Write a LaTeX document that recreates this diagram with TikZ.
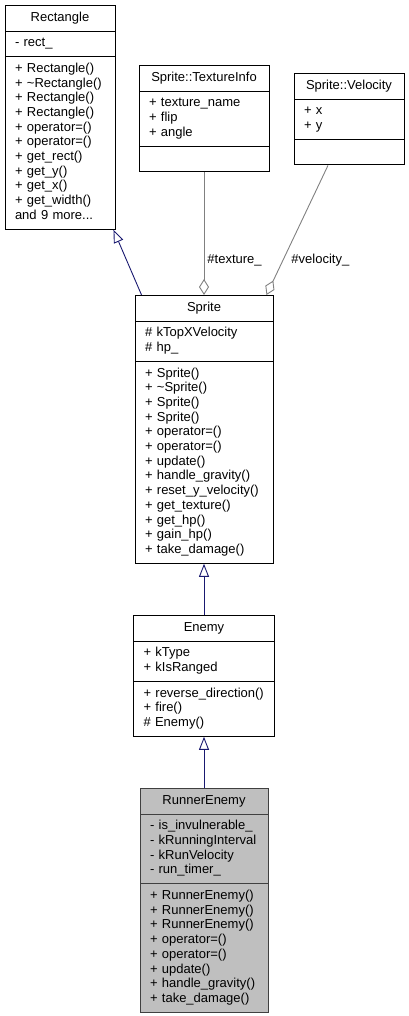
\documentclass[tikz,border=0pt]{standalone}
\usepackage{fontspec}
\setmainfont{Liberation Sans}
\usetikzlibrary{shapes.multipart,arrows.meta}

\definecolor{edgeblue}{HTML}{191970}
\definecolor{edgegrey}{HTML}{808080}
\definecolor{nodegrey}{HTML}{BFBFBF}
\definecolor{bordergrey}{HTML}{404040}

\newcommand{\rows}[1]{\strut#1\strut}
\newcommand{\classname}[1]{\makebox[\hsize]{\strut#1}}

\tikzset{
  classbox/.style={rectangle split, rectangle split parts=3, draw=black, fill=white,
    anchor=north, inner xsep=10pt, inner ysep=5pt, align=left,
    font=\fontsize{13}{14.7}\selectfont},
  inherit/.style={draw=edgeblue, -{Triangle[open,length=13pt,width=10pt]}},
  member/.style={draw=edgegrey, -{Diamond[open,length=16pt,width=10pt]}},
  rolelabel/.style={anchor=west, inner sep=0pt, font=\fontsize{13}{14.7}\selectfont}
}

\begin{document}
\begin{tikzpicture}[x=1pt, y=-1pt, line width=0.9pt]
  \useasboundingbox (0,0) rectangle (409,1016);

  % classes
  \node[classbox, text width=90pt]  (rect) at (60,5)
    {\classname{Rectangle}
     \nodepart{second}\rows{- rect\_}
     \nodepart{third}\rows{+ Rectangle()\\+ \textasciitilde Rectangle()\\+ Rectangle()\\+ Rectangle()\\
       + operator=()\\+ operator=()\\+ get\_rect()\\+ get\_y()\\+ get\_x()\\+ get\_width()\\and 9 more...}};
  \node[classbox, text width=110pt] (texinfo) at (204,65)
    {\classname{Sprite::TextureInfo}
     \nodepart{second}\rows{+ texture\_name\\+ flip\\+ angle}
     \nodepart{third}\strut};
  \node[classbox, text width=90pt]  (velocity) at (349,73)
    {\classname{Sprite::Velocity}
     \nodepart{second}\rows{+ x\\+ y}
     \nodepart{third}\strut};
  \node[classbox, text width=118pt] (sprite) at (204,295)
    {\classname{Sprite}
     \nodepart{second}\rows{\# kTopXVelocity\\\# hp\_}
     \nodepart{third}\rows{+ Sprite()\\+ \textasciitilde Sprite()\\+ Sprite()\\+ Sprite()\\+ operator=()\\
       + operator=()\\+ update()\\+ handle\_gravity()\\+ reset\_y\_velocity()\\+ get\_texture()\\
       + get\_hp()\\+ gain\_hp()\\+ take\_damage()}};
  \node[classbox, text width=121pt] (enemy) at (204,615)
    {\classname{Enemy}
     \nodepart{second}\rows{+ kType\\+ kIsRanged}
     \nodepart{third}\rows{+ reverse\_direction()\\+ fire()\\\# Enemy()}};
  \node[classbox, text width=108pt, fill=nodegrey, draw=bordergrey] (runner) at (204,788)
    {\classname{RunnerEnemy}
     \nodepart{second}\rows{- is\_invulnerable\_\\- kRunningInterval\\- kRunVelocity\\- run\_timer\_}
     \nodepart{third}\rows{+ RunnerEnemy()\\+ RunnerEnemy()\\+ RunnerEnemy()\\+ operator=()\\
       + operator=()\\+ update()\\+ handle\_gravity()\\+ take\_damage()}};

  % relations
  \draw[inherit] ([xshift=7pt]sprite.north west) -- ([xshift=-2pt]rect.south east);
  \draw[member]  (texinfo.south) -- (sprite.north);
  \draw[member]  ([xshift=-21pt]velocity.south) -- ([xshift=-7pt]sprite.north east);
  \draw[inherit] (enemy.north) -- (sprite.south);
  \draw[inherit] (runner.north) -- (enemy.south);

  \node[rolelabel] (texlabel) at (207,260) {\#texture\_};
  \node[rolelabel] (vellabel) at (291,260) {\#velocity\_};
\end{tikzpicture}
\end{document}
